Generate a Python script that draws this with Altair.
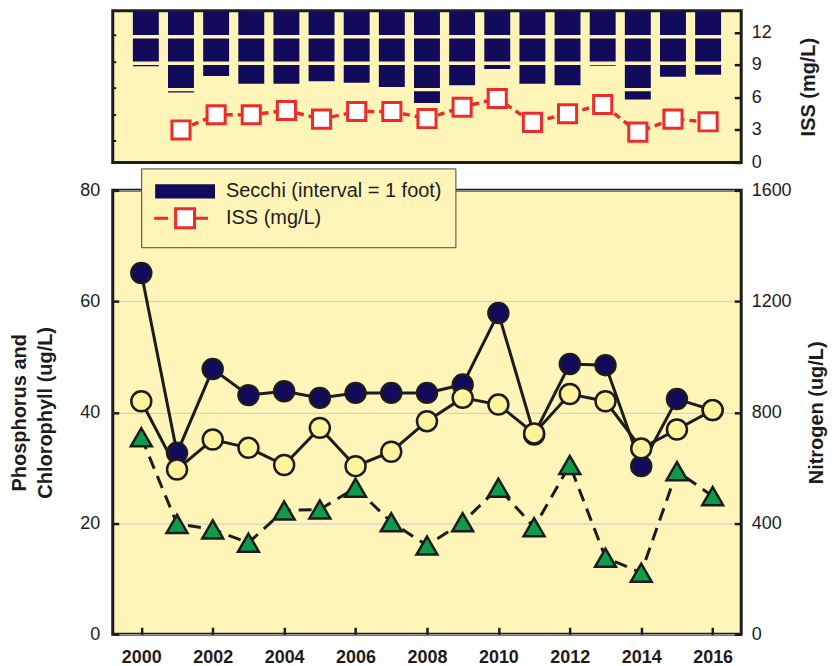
import altair as alt
import pandas as pd

# ---------------- data ----------------
years = list(range(2000, 2017))
secchi_ft = [2.18, 3.17, 2.55, 2.84, 2.84, 2.75, 2.80, 2.96, 3.57, 2.90,
             2.28, 2.84, 2.90, 2.16, 3.44, 2.58, 2.50]
iss_mgL = [None, 3.0, 4.4, 4.4, 4.8, 4.0, 4.7, 4.7, 4.05, 5.1,
           5.9, 3.7, 4.5, 5.35, 2.8, 4.0, 3.75]
phosphorus = [65.1, 32.7, 47.8, 43.1, 43.8, 42.6, 43.5, 43.5, 43.5, 45.0,
              57.9, 36.0, 48.7, 48.5, 30.3, 42.4, 40.4]
nitrogen = [840, 594, 702, 672, 610, 744, 606, 658, 768, 852,
            828, 724, 866, 840, 670, 738, 808]
chlorophyll = [35.5, 19.9, 18.9, 16.5, 22.3, 22.5, 26.4, 20.2, 16.0, 20.2,
               26.4, 19.3, 30.5, 13.8, 11.1, 29.4, 24.9]
year_ticks = [2000, 2002, 2004, 2006, 2008, 2010, 2012, 2014, 2016]
left_ticks = [0, 20, 40, 60, 80]
right_ticks = [0, 400, 800, 1200, 1600]
iss_ticks = [0, 3, 6, 9, 12]
secchi_ticks = [1, 2, 3, 4, 5]

SECCHI = "Secchi (interval = 1 foot)"
ISS = "ISS (mg/L)"
legend_series = [SECCHI, ISS]

BG = "#fff5b9"
NAVY = "#120a5a"
RED = "#ee2b2b"
GREEN = "#0e9c4c"
PALE = "#fff49c"
INK = "#1c1c1c"
FONT = "Liberation Sans"

# secchi bars split in 1-foot intervals
GAP = 0.13
seg_rows = []
for yr, d in zip(years, secchi_ft):
    i = 0
    while i < d:
        seg_rows.append({"year": yr, "top": i + GAP, "bottom": min(i + 1, d), "series": SECCHI})
        i += 1
seg_df = pd.DataFrame(seg_rows)

iss_df = pd.DataFrame({"year": years, "iss": iss_mgL}).dropna()
iss_df["series"] = ISS

wq = pd.DataFrame({"year": years, "tp": phosphorus, "tn": nitrogen, "chl": chlorophyll})
leg_df = pd.DataFrame({"series": legend_series})

# ---------------- shared pieces ----------------
XSCALE = alt.Scale(domain=[1999.2, 2016.8], nice=False, zero=False)
ISS_PATH = "M-6.2,0H-3.4M2.2,0H4.6M-1.9,-1.9H1.9V1.9H-1.9Z"
SEC_PATH = "M-5.7,-1.15H5.7V1.15H-5.7Z"
VIEW = alt.ViewBackground(fill=BG, stroke=INK, strokeWidth=3)

LEG = alt.Legend(
    title=None, orient="none", legendX=28.5, legendY=158,
    fillColor=BG, strokeColor="#444444", padding=13, rowPadding=-1,
    symbolSize=100, symbolStrokeWidth=3, symbolOffset=21, labelOffset=31,
    symbolOpacity=1, labelLimit=500,
    labelFont=FONT, labelFontSize=20, labelColor=INK,
)
FILL = alt.Scale(domain=legend_series, range=[NAVY, "white"])
STROKE = alt.Scale(domain=legend_series, range=[NAVY, RED])
SHAPE = alt.Scale(domain=legend_series, range=[SEC_PATH, ISS_PATH])

# ---------------- top panel ----------------
x_top = alt.X("year:Q", scale=XSCALE, axis=None)

bars = alt.Chart(seg_df).mark_bar(size=26, clip=True).encode(
    x=x_top,
    y=alt.Y("top:Q", scale=alt.Scale(domain=[0.08, 5.82], reverse=True, nice=False, zero=False),
            axis=alt.Axis(orient="left", values=secchi_ticks, labels=False, title=None,
                          tickSize=alt.ExprRef(expr="-3"), tickWidth=2, grid=False)),
    y2="bottom:Q",
    fill=alt.Fill("series:N", scale=FILL, legend=LEG),
)

y_iss = alt.Y("iss:Q", scale=alt.Scale(domain=[0, 14], nice=False),
              axis=alt.Axis(orient="right", values=iss_ticks, title=ISS, titleAngle=270,
                            tickSize=alt.ExprRef(expr="-7"), labelPadding=17, titlePadding=47,
                            grid=False))
iss_line = alt.Chart(iss_df).mark_line(color=RED, strokeWidth=3.5, strokeDash=[7, 5]).encode(
    x=x_top, y=y_iss)
iss_pts = alt.Chart(iss_df).mark_point(shape="square", size=330, filled=True, strokeWidth=3,
                                       opacity=1).encode(
    x=x_top, y=y_iss,
    fill=alt.Fill("series:N", scale=FILL, legend=LEG),
    stroke=alt.Stroke("series:N", scale=STROKE, legend=LEG),
)
# legend-only layer (supplies the symbol shapes of the legend)
leg_layer = alt.Chart(leg_df).mark_point(filled=True, opacity=0, size=100).encode(
    shape=alt.Shape("series:N", scale=SHAPE, legend=LEG),
    fill=alt.Fill("series:N", scale=FILL, legend=LEG),
    stroke=alt.Stroke("series:N", scale=STROKE, legend=LEG),
)
top = alt.layer(bars, alt.layer(iss_line, iss_pts, leg_layer)).resolve_scale(
    y="independent").properties(width=630, height=152, view=VIEW)

# ---------------- lower panel ----------------
x_low = alt.X("year:Q", scale=XSCALE,
              axis=alt.Axis(values=year_ticks, format="d", title=None, labelFontWeight="bold",
                            labelFontSize=18,
                            tickSize=alt.ExprRef(expr="-7"), labelPadding=21, grid=False))
LSCALE = alt.Scale(domain=[0, 80], nice=False)
y_left = alt.Y("tp:Q", scale=LSCALE,
               axis=alt.Axis(orient="left", values=left_ticks, grid=True,
                             title=["Phosphorus and", "Chlorophyll (ug/L)"], titleLineHeight=26,
                             tickSize=alt.ExprRef(expr="-6"), labelPadding=19, titlePadding=24))
tp_line = alt.Chart(wq).mark_line(color=INK, strokeWidth=3).encode(x=x_low, y=y_left)
tp_pts = alt.Chart(wq).mark_point(shape="circle", size=400, filled=True, fill=NAVY, stroke=INK,
                                  strokeWidth=2.5, opacity=1).encode(x=x_low, y=y_left)

y_right = alt.Y("tn:Q", scale=alt.Scale(domain=[0, 1600], nice=False),
                axis=alt.Axis(orient="right", values=right_ticks, format="d",
                              title="Nitrogen (ug/L)",
                              titleAngle=270, tickSize=alt.ExprRef(expr="-7"), labelPadding=17,
                              titlePadding=35, grid=False))
tn_line = alt.Chart(wq).mark_line(color=INK, strokeWidth=3).encode(x=x_low, y=y_right)
tn_pts = alt.Chart(wq).mark_point(shape="circle", size=400, filled=True, fill=PALE, stroke=INK,
                                  strokeWidth=2.5, opacity=1).encode(x=x_low, y=y_right)

y_chl = alt.Y("chl:Q", scale=LSCALE, axis=None)
chl_line = alt.Chart(wq).mark_line(color=INK, strokeWidth=3, strokeDash=[13, 8]).encode(
    x=x_low, y=y_chl)
chl_pts = alt.Chart(wq).mark_point(shape="triangle-up", size=440, filled=True, fill=GREEN,
                                   stroke=INK, strokeWidth=2.5, opacity=1).encode(x=x_low, y=y_chl)

lower = alt.layer(
    alt.layer(tp_line, tp_pts),
    alt.layer(tn_line, tn_pts),
    alt.layer(chl_line, chl_pts),
).resolve_scale(y="independent").properties(width=630, height=445, view=VIEW)

chart = alt.vconcat(top, lower, spacing=28, bounds="flush").properties(
    padding={"left": 0, "top": 0, "right": 2, "bottom": 2}
).configure_view(
    stroke=INK, strokeWidth=3, fill=BG
).configure_axis(
    labelFont=FONT, labelFontSize=18, labelColor=INK,
    titleFont=FONT, titleFontSize=20, titleFontWeight="bold", titleColor=INK,
    tickColor=INK, tickWidth=2.5, gridColor="#c9cad6", gridWidth=1, domain=False,
)

chart.save("out.html", embed_options={"renderer": "svg", "actions": False})
